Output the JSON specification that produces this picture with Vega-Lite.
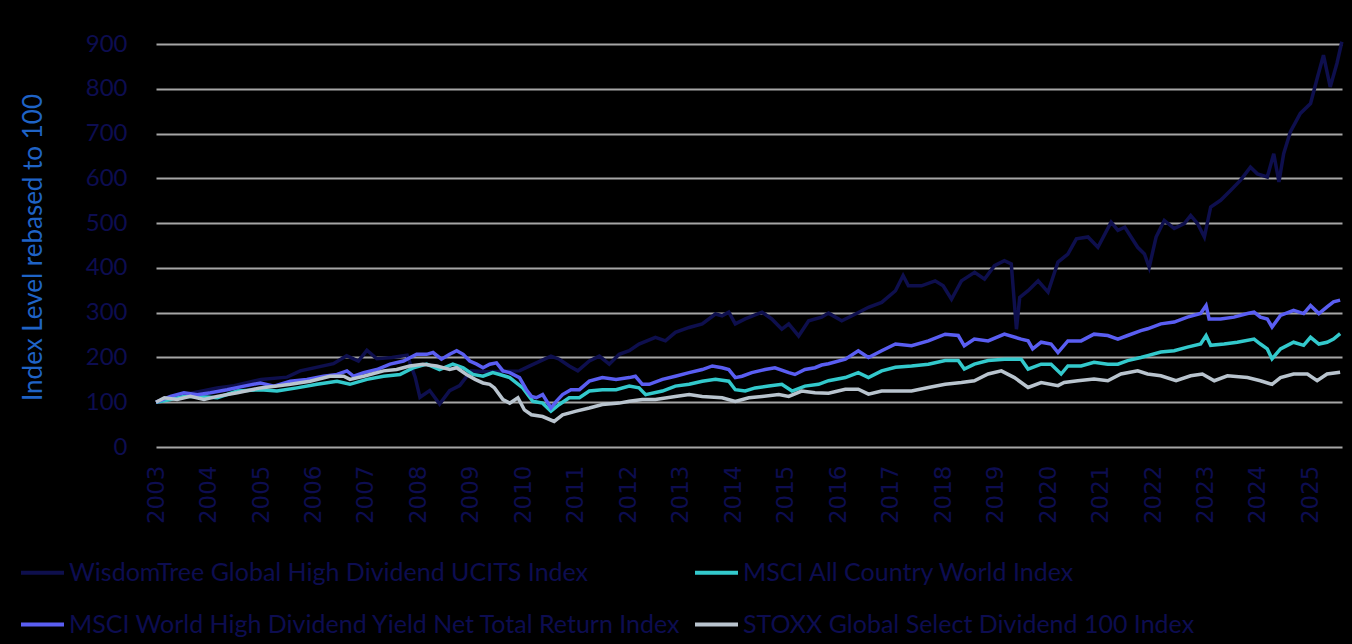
{
  "$schema": "https://vega.github.io/schema/vega-lite/v6.json",
  "autosize": {"type": "none"},
  "padding": {"left": 156, "top": 44, "right": 10, "bottom": 197},
  "width": 1186,
  "height": 403,
  "background": "#000000",
  "config": {"view": {"stroke": null}, "font": "Lato"},
  "data": {"values": [
    {"t":"2003-01-01","s":"W","v":100},{"t":"2003-07-15","s":"W","v":117},{"t":"2004-03-01","s":"W","v":132},{"t":"2004-06-28","s":"W","v":137},{"t":"2005-01-01","s":"W","v":151},{"t":"2005-07-01","s":"W","v":156},{"t":"2005-10-01","s":"W","v":170},{"t":"2006-05-20","s":"W","v":186},{"t":"2006-08-20","s":"W","v":204},{"t":"2006-11-10","s":"W","v":192},{"t":"2007-01-08","s":"W","v":216},{"t":"2007-03-18","s":"W","v":197},{"t":"2007-07-01","s":"W","v":200},{"t":"2007-10-15","s":"W","v":205},{"t":"2007-12-10","s":"W","v":156},{"t":"2008-01-12","s":"W","v":111},{"t":"2008-03-20","s":"W","v":126},{"t":"2008-05-28","s":"W","v":96},{"t":"2008-08-06","s":"W","v":126},{"t":"2008-10-15","s":"W","v":137},{"t":"2009-01-01","s":"W","v":170},{"t":"2009-04-20","s":"W","v":168},{"t":"2009-12-05","s":"W","v":170},{"t":"2010-02-15","s":"W","v":181},{"t":"2010-07-12","s":"W","v":203},{"t":"2010-09-08","s":"W","v":196},{"t":"2010-11-16","s":"W","v":181},{"t":"2011-01-15","s":"W","v":170},{"t":"2011-04-05","s":"W","v":192},{"t":"2011-06-14","s":"W","v":203},{"t":"2011-08-22","s":"W","v":185},{"t":"2011-10-30","s":"W","v":207},{"t":"2012-01-08","s":"W","v":215},{"t":"2012-03-16","s":"W","v":230},{"t":"2012-07-08","s":"W","v":245},{"t":"2012-09-16","s":"W","v":237},{"t":"2012-11-24","s":"W","v":256},{"t":"2013-02-28","s":"W","v":267},{"t":"2013-05-30","s":"W","v":275},{"t":"2013-08-30","s":"W","v":297},{"t":"2013-10-15","s":"W","v":293},{"t":"2013-12-01","s":"W","v":301},{"t":"2014-01-15","s":"W","v":275},{"t":"2014-03-25","s":"W","v":286},{"t":"2014-07-20","s":"W","v":301},{"t":"2014-09-26","s":"W","v":286},{"t":"2014-12-05","s":"W","v":263},{"t":"2015-01-22","s":"W","v":275},{"t":"2015-04-01","s":"W","v":248},{"t":"2015-06-10","s":"W","v":282},{"t":"2015-09-08","s":"W","v":290},{"t":"2015-10-26","s":"W","v":299},{"t":"2016-01-26","s":"W","v":282},{"t":"2016-05-01","s":"W","v":297},{"t":"2016-07-30","s":"W","v":312},{"t":"2016-10-30","s":"W","v":323},{"t":"2017-02-03","s":"W","v":349},{"t":"2017-03-28","s":"W","v":383},{"t":"2017-05-04","s":"W","v":360},{"t":"2017-08-03","s":"W","v":360},{"t":"2017-11-06","s":"W","v":371},{"t":"2018-01-01","s":"W","v":360},{"t":"2018-02-28","s":"W","v":330},{"t":"2018-05-08","s":"W","v":371},{"t":"2018-08-08","s":"W","v":390},{"t":"2018-10-16","s":"W","v":375},{"t":"2018-12-24","s":"W","v":405},{"t":"2019-03-03","s":"W","v":416},{"t":"2019-04-20","s":"W","v":409},{"t":"2019-05-26","s":"W","v":263},{"t":"2019-06-18","s":"W","v":334},{"t":"2019-08-15","s":"W","v":349},{"t":"2019-10-24","s":"W","v":371},{"t":"2020-01-01","s":"W","v":346},{"t":"2020-03-10","s":"W","v":413},{"t":"2020-05-18","s":"W","v":431},{"t":"2020-07-16","s":"W","v":465},{"t":"2020-10-05","s":"W","v":469},{"t":"2020-12-13","s":"W","v":446},{"t":"2021-03-15","s":"W","v":502},{"t":"2021-05-01","s":"W","v":484},{"t":"2021-06-18","s":"W","v":491},{"t":"2021-08-01","s":"W","v":469},{"t":"2021-09-16","s":"W","v":446},{"t":"2021-11-02","s":"W","v":431},{"t":"2021-12-05","s":"W","v":401},{"t":"2022-01-22","s":"W","v":469},{"t":"2022-03-20","s":"W","v":506},{"t":"2022-05-28","s":"W","v":488},{"t":"2022-08-06","s":"W","v":499},{"t":"2022-09-20","s":"W","v":517},{"t":"2022-11-06","s":"W","v":499},{"t":"2022-12-24","s":"W","v":469},{"t":"2023-02-06","s":"W","v":536},{"t":"2023-04-16","s":"W","v":551},{"t":"2023-06-24","s":"W","v":573},{"t":"2023-09-02","s":"W","v":596},{"t":"2023-11-10","s":"W","v":625},{"t":"2023-12-28","s":"W","v":610},{"t":"2024-03-06","s":"W","v":603},{"t":"2024-04-20","s":"W","v":655},{"t":"2024-05-26","s":"W","v":592},{"t":"2024-06-28","s":"W","v":655},{"t":"2024-08-14","s":"W","v":704},{"t":"2024-10-22","s":"W","v":745},{"t":"2025-01-01","s":"W","v":767},{"t":"2025-02-16","s":"W","v":823},{"t":"2025-04-01","s":"W","v":875},{"t":"2025-05-18","s":"W","v":804},{"t":"2025-07-04","s":"W","v":857},{"t":"2025-08-07","s":"W","v":905},

    {"t":"2003-01-01","s":"A","v":100},{"t":"2003-04-12","s":"A","v":106},{"t":"2003-07-15","s":"A","v":113},{"t":"2003-10-16","s":"A","v":113},{"t":"2004-03-03","s":"A","v":110},{"t":"2004-07-20","s":"A","v":125},{"t":"2004-12-28","s":"A","v":128},{"t":"2005-04-22","s":"A","v":125},{"t":"2005-09-08","s":"A","v":132},{"t":"2006-01-26","s":"A","v":140},{"t":"2006-06-14","s":"A","v":147},{"t":"2006-09-12","s":"A","v":140},{"t":"2007-01-08","s":"A","v":151},{"t":"2007-05-04","s":"A","v":158},{"t":"2007-08-26","s":"A","v":162},{"t":"2007-11-28","s":"A","v":177},{"t":"2008-02-28","s":"A","v":185},{"t":"2008-05-28","s":"A","v":173},{"t":"2008-08-28","s":"A","v":185},{"t":"2008-11-08","s":"A","v":177},{"t":"2009-01-15","s":"A","v":162},{"t":"2009-03-26","s":"A","v":158},{"t":"2009-06-02","s":"A","v":166},{"t":"2009-07-20","s":"A","v":162},{"t":"2009-09-28","s":"A","v":155},{"t":"2009-12-28","s":"A","v":132},{"t":"2010-03-08","s":"A","v":102},{"t":"2010-05-15","s":"A","v":98},{"t":"2010-07-12","s":"A","v":80},{"t":"2010-09-08","s":"A","v":95},{"t":"2010-11-16","s":"A","v":110},{"t":"2011-01-26","s":"A","v":110},{"t":"2011-04-05","s":"A","v":125},{"t":"2011-07-05","s":"A","v":128},{"t":"2011-10-08","s":"A","v":128},{"t":"2012-01-08","s":"A","v":136},{"t":"2012-03-16","s":"A","v":132},{"t":"2012-05-01","s":"A","v":117},{"t":"2012-08-26","s":"A","v":125},{"t":"2012-11-24","s":"A","v":136},{"t":"2013-02-28","s":"A","v":140},{"t":"2013-05-30","s":"A","v":147},{"t":"2013-08-30","s":"A","v":151},{"t":"2013-12-01","s":"A","v":147},{"t":"2014-01-15","s":"A","v":128},{"t":"2014-03-25","s":"A","v":125},{"t":"2014-06-02","s":"A","v":132},{"t":"2014-09-05","s":"A","v":136},{"t":"2014-12-05","s":"A","v":140},{"t":"2015-02-14","s":"A","v":125},{"t":"2015-05-15","s":"A","v":136},{"t":"2015-08-18","s":"A","v":140},{"t":"2015-10-26","s":"A","v":148},{"t":"2016-02-20","s":"A","v":155},{"t":"2016-05-20","s":"A","v":166},{"t":"2016-07-30","s":"A","v":155},{"t":"2016-10-30","s":"A","v":170},{"t":"2017-02-03","s":"A","v":178},{"t":"2017-05-26","s":"A","v":181},{"t":"2017-09-20","s":"A","v":185},{"t":"2018-01-15","s":"A","v":193},{"t":"2018-04-16","s":"A","v":193},{"t":"2018-05-28","s":"A","v":174},{"t":"2018-08-06","s":"A","v":185},{"t":"2018-11-10","s":"A","v":193},{"t":"2019-03-03","s":"A","v":196},{"t":"2019-06-28","s":"A","v":196},{"t":"2019-08-15","s":"A","v":174},{"t":"2019-11-14","s":"A","v":185},{"t":"2020-01-22","s":"A","v":185},{"t":"2020-04-01","s":"A","v":163},{"t":"2020-05-18","s":"A","v":181},{"t":"2020-08-18","s":"A","v":181},{"t":"2020-11-16","s":"A","v":189},{"t":"2021-02-20","s":"A","v":185},{"t":"2021-05-01","s":"A","v":185},{"t":"2021-07-08","s":"A","v":193},{"t":"2021-10-08","s":"A","v":200},{"t":"2021-11-24","s":"A","v":204},{"t":"2022-02-24","s":"A","v":212},{"t":"2022-05-28","s":"A","v":215},{"t":"2022-08-28","s":"A","v":223},{"t":"2022-11-28","s":"A","v":230},{"t":"2023-01-05","s":"A","v":249},{"t":"2023-02-06","s":"A","v":227},{"t":"2023-05-10","s":"A","v":230},{"t":"2023-08-10","s":"A","v":234},{"t":"2023-12-05","s":"A","v":241},{"t":"2024-01-18","s":"A","v":230},{"t":"2024-03-06","s":"A","v":219},{"t":"2024-04-08","s":"A","v":197},{"t":"2024-06-06","s":"A","v":219},{"t":"2024-09-05","s":"A","v":234},{"t":"2024-11-14","s":"A","v":227},{"t":"2025-01-01","s":"A","v":245},{"t":"2025-02-28","s":"A","v":230},{"t":"2025-04-26","s":"A","v":234},{"t":"2025-06-10","s":"A","v":241},{"t":"2025-07-26","s":"A","v":253},

    {"t":"2003-01-01","s":"H","v":100},{"t":"2003-04-12","s":"H","v":113},{"t":"2003-07-15","s":"H","v":121},{"t":"2003-10-16","s":"H","v":117},{"t":"2004-01-15","s":"H","v":121},{"t":"2004-05-10","s":"H","v":128},{"t":"2004-09-05","s":"H","v":136},{"t":"2004-12-28","s":"H","v":143},{"t":"2005-04-01","s":"H","v":136},{"t":"2005-07-24","s":"H","v":147},{"t":"2005-11-16","s":"H","v":151},{"t":"2006-03-12","s":"H","v":158},{"t":"2006-06-14","s":"H","v":162},{"t":"2006-08-22","s":"H","v":170},{"t":"2006-10-08","s":"H","v":158},{"t":"2006-12-16","s":"H","v":166},{"t":"2007-03-18","s":"H","v":173},{"t":"2007-06-18","s":"H","v":185},{"t":"2007-09-20","s":"H","v":192},{"t":"2007-12-20","s":"H","v":207},{"t":"2008-02-28","s":"H","v":207},{"t":"2008-04-12","s":"H","v":211},{"t":"2008-06-10","s":"H","v":196},{"t":"2008-08-06","s":"H","v":207},{"t":"2008-09-24","s":"H","v":215},{"t":"2008-11-08","s":"H","v":207},{"t":"2008-12-24","s":"H","v":192},{"t":"2009-02-10","s":"H","v":185},{"t":"2009-03-26","s":"H","v":177},{"t":"2009-05-12","s":"H","v":185},{"t":"2009-06-28","s":"H","v":188},{"t":"2009-08-12","s":"H","v":170},{"t":"2009-09-28","s":"H","v":166},{"t":"2009-12-05","s":"H","v":155},{"t":"2010-01-22","s":"H","v":128},{"t":"2010-02-26","s":"H","v":113},{"t":"2010-04-01","s":"H","v":110},{"t":"2010-05-15","s":"H","v":117},{"t":"2010-07-12","s":"H","v":87},{"t":"2010-08-18","s":"H","v":102},{"t":"2010-10-01","s":"H","v":117},{"t":"2010-11-28","s":"H","v":128},{"t":"2011-01-26","s":"H","v":128},{"t":"2011-04-05","s":"H","v":147},{"t":"2011-07-05","s":"H","v":155},{"t":"2011-10-08","s":"H","v":151},{"t":"2012-01-08","s":"H","v":155},{"t":"2012-02-20","s":"H","v":158},{"t":"2012-04-08","s":"H","v":140},{"t":"2012-05-26","s":"H","v":140},{"t":"2012-08-26","s":"H","v":151},{"t":"2012-11-24","s":"H","v":158},{"t":"2013-02-28","s":"H","v":166},{"t":"2013-05-30","s":"H","v":173},{"t":"2013-08-08","s":"H","v":181},{"t":"2013-10-15","s":"H","v":177},{"t":"2013-12-01","s":"H","v":173},{"t":"2014-01-15","s":"H","v":155},{"t":"2014-03-03","s":"H","v":158},{"t":"2014-05-10","s":"H","v":166},{"t":"2014-08-10","s":"H","v":173},{"t":"2014-10-18","s":"H","v":177},{"t":"2015-01-22","s":"H","v":166},{"t":"2015-03-06","s":"H","v":162},{"t":"2015-05-15","s":"H","v":173},{"t":"2015-07-24","s":"H","v":177},{"t":"2015-09-08","s":"H","v":183},{"t":"2015-10-26","s":"H","v":186},{"t":"2016-02-20","s":"H","v":196},{"t":"2016-05-20","s":"H","v":215},{"t":"2016-07-30","s":"H","v":200},{"t":"2016-10-30","s":"H","v":215},{"t":"2017-02-03","s":"H","v":230},{"t":"2017-05-26","s":"H","v":226},{"t":"2017-09-20","s":"H","v":237},{"t":"2018-01-15","s":"H","v":252},{"t":"2018-04-16","s":"H","v":249},{"t":"2018-05-28","s":"H","v":226},{"t":"2018-08-06","s":"H","v":241},{"t":"2018-11-10","s":"H","v":237},{"t":"2019-03-03","s":"H","v":252},{"t":"2019-06-28","s":"H","v":241},{"t":"2019-08-15","s":"H","v":237},{"t":"2019-09-16","s":"H","v":219},{"t":"2019-11-14","s":"H","v":234},{"t":"2020-01-22","s":"H","v":230},{"t":"2020-03-10","s":"H","v":211},{"t":"2020-05-18","s":"H","v":237},{"t":"2020-08-18","s":"H","v":237},{"t":"2020-11-16","s":"H","v":252},{"t":"2021-02-20","s":"H","v":249},{"t":"2021-05-01","s":"H","v":241},{"t":"2021-07-08","s":"H","v":249},{"t":"2021-10-08","s":"H","v":260},{"t":"2021-11-24","s":"H","v":264},{"t":"2022-02-24","s":"H","v":275},{"t":"2022-05-28","s":"H","v":279},{"t":"2022-08-28","s":"H","v":290},{"t":"2022-11-28","s":"H","v":298},{"t":"2023-01-05","s":"H","v":316},{"t":"2023-01-26","s":"H","v":286},{"t":"2023-04-16","s":"H","v":286},{"t":"2023-07-18","s":"H","v":290},{"t":"2023-10-20","s":"H","v":298},{"t":"2023-12-05","s":"H","v":301},{"t":"2024-01-18","s":"H","v":290},{"t":"2024-03-06","s":"H","v":286},{"t":"2024-04-08","s":"H","v":268},{"t":"2024-06-06","s":"H","v":294},{"t":"2024-09-05","s":"H","v":305},{"t":"2024-11-14","s":"H","v":298},{"t":"2025-01-01","s":"H","v":316},{"t":"2025-02-28","s":"H","v":298},{"t":"2025-04-26","s":"H","v":313},{"t":"2025-06-10","s":"H","v":324},{"t":"2025-07-26","s":"H","v":328},

    {"t":"2003-01-01","s":"S","v":100},{"t":"2003-02-28","s":"S","v":110},{"t":"2003-05-28","s":"S","v":106},{"t":"2003-08-28","s":"S","v":113},{"t":"2003-12-01","s":"S","v":106},{"t":"2004-03-03","s":"S","v":113},{"t":"2004-07-20","s":"S","v":121},{"t":"2004-12-28","s":"S","v":132},{"t":"2005-04-22","s":"S","v":136},{"t":"2005-07-24","s":"S","v":140},{"t":"2005-12-08","s":"S","v":147},{"t":"2006-04-26","s":"S","v":158},{"t":"2006-07-30","s":"S","v":158},{"t":"2006-09-12","s":"S","v":151},{"t":"2006-12-16","s":"S","v":158},{"t":"2007-05-04","s":"S","v":170},{"t":"2007-08-03","s":"S","v":173},{"t":"2007-11-02","s":"S","v":181},{"t":"2008-02-02","s":"S","v":185},{"t":"2008-05-08","s":"S","v":181},{"t":"2008-08-06","s":"S","v":173},{"t":"2008-09-24","s":"S","v":177},{"t":"2008-12-01","s":"S","v":162},{"t":"2009-01-30","s":"S","v":151},{"t":"2009-03-26","s":"S","v":143},{"t":"2009-05-12","s":"S","v":140},{"t":"2009-06-14","s":"S","v":132},{"t":"2009-08-12","s":"S","v":106},{"t":"2009-09-28","s":"S","v":98},{"t":"2009-11-24","s":"S","v":110},{"t":"2010-01-08","s":"S","v":83},{"t":"2010-02-26","s":"S","v":72},{"t":"2010-05-15","s":"S","v":68},{"t":"2010-08-03","s":"S","v":57},{"t":"2010-10-01","s":"S","v":72},{"t":"2011-01-04","s":"S","v":80},{"t":"2011-04-05","s":"S","v":87},{"t":"2011-07-05","s":"S","v":95},{"t":"2011-10-30","s":"S","v":98},{"t":"2012-01-08","s":"S","v":102},{"t":"2012-04-08","s":"S","v":106},{"t":"2012-07-08","s":"S","v":106},{"t":"2012-11-24","s":"S","v":113},{"t":"2013-02-28","s":"S","v":117},{"t":"2013-05-30","s":"S","v":113},{"t":"2013-10-15","s":"S","v":110},{"t":"2014-01-15","s":"S","v":102},{"t":"2014-04-20","s":"S","v":110},{"t":"2014-07-20","s":"S","v":113},{"t":"2014-11-14","s":"S","v":117},{"t":"2015-01-22","s":"S","v":113},{"t":"2015-04-22","s":"S","v":125},{"t":"2015-07-24","s":"S","v":121},{"t":"2015-10-26","s":"S","v":120},{"t":"2016-02-20","s":"S","v":129},{"t":"2016-05-20","s":"S","v":129},{"t":"2016-07-30","s":"S","v":118},{"t":"2016-10-30","s":"S","v":125},{"t":"2017-02-03","s":"S","v":125},{"t":"2017-05-26","s":"S","v":125},{"t":"2017-09-20","s":"S","v":133},{"t":"2018-01-15","s":"S","v":140},{"t":"2018-05-08","s":"S","v":144},{"t":"2018-08-06","s":"S","v":148},{"t":"2018-11-10","s":"S","v":163},{"t":"2019-02-10","s":"S","v":170},{"t":"2019-05-12","s":"S","v":155},{"t":"2019-08-15","s":"S","v":133},{"t":"2019-11-14","s":"S","v":144},{"t":"2020-03-10","s":"S","v":137},{"t":"2020-04-22","s":"S","v":144},{"t":"2020-07-26","s":"S","v":148},{"t":"2020-11-16","s":"S","v":152},{"t":"2021-02-20","s":"S","v":148},{"t":"2021-05-22","s":"S","v":163},{"t":"2021-09-16","s":"S","v":170},{"t":"2021-11-24","s":"S","v":163},{"t":"2022-02-24","s":"S","v":159},{"t":"2022-06-10","s":"S","v":148},{"t":"2022-09-20","s":"S","v":159},{"t":"2022-12-10","s":"S","v":163},{"t":"2023-03-03","s":"S","v":148},{"t":"2023-06-03","s":"S","v":159},{"t":"2023-10-20","s":"S","v":155},{"t":"2024-01-18","s":"S","v":148},{"t":"2024-04-08","s":"S","v":140},{"t":"2024-06-06","s":"S","v":155},{"t":"2024-09-05","s":"S","v":163},{"t":"2024-12-10","s":"S","v":163},{"t":"2025-02-16","s":"S","v":148},{"t":"2025-04-26","s":"S","v":163},{"t":"2025-07-26","s":"S","v":167}
  ]},
  "mark": {"type": "line", "strokeWidth": 3.5, "interpolate": "linear"},
  "encoding": {
    "x": {
      "field": "t", "type": "temporal",
      "scale": {"domain": [{"year": 2003, "month": 1, "date": 1}, {"year": 2025, "month": 8, "date": 8}]},
      "axis": {
        "title": null, "format": "%Y", "tickCount": {"interval": "year", "step": 1},
        "labelAngle": -90, "labelFontSize": 23, "labelFont": "DejaVu Sans", "labelColor": "#0d0d50",
        "labelPadding": 18, "labelOverlap": false, "labelFlush": false,
        "grid": false, "ticks": false, "domain": false
      }
    },
    "y": {
      "field": "v", "type": "quantitative",
      "scale": {"domain": [0, 900], "nice": false},
      "axis": {
        "title": "Index Level rebased to 100", "titleColor": "#1f63c6", "titleFont": "Lato",
        "titleFontSize": 26, "titleFontWeight": "normal",
        "titleX": -123, "titleY": 203, "titleAngle": -90, "titleAlign": "center", "titleBaseline": "middle",
        "values": [0, 100, 200, 300, 400, 500, 600, 700, 800, 900],
        "labelFontSize": 24, "labelFont": "Lato", "labelColor": "#0d0d50", "labelPadding": 29,
        "grid": true, "gridColor": "#a6a6a6", "gridWidth": 2,
        "ticks": false, "domain": false
      }
    },
    "color": {
      "field": "s", "type": "nominal",
      "scale": {"domain": ["W", "H", "A", "S"], "range": ["#0e0f4d", "#5a5ef2", "#33c9cc", "#b9c4ce"]},
      "legend": {
        "title": null, "orient": "none", "legendX": -137, "legendY": 505,
        "columns": 2, "columnPadding": 5, "rowPadding": 15,
        "symbolType": "stroke", "symbolSize": 1849, "symbolStrokeWidth": 4,
        "labelFontSize": 25, "labelFont": "Lato", "labelColor": "#0d0d50", "labelLimit": 800, "labelOffset": 3,
        "labelExpr": "datum.value == 'W' ? 'WisdomTree Global High Dividend UCITS Index' : datum.value == 'A' ? 'MSCI All Country World Index' : datum.value == 'H' ? 'MSCI World High Dividend Yield Net Total Return Index' : 'STOXX Global Select Dividend 100 Index'"
      }
    }
  }
}
